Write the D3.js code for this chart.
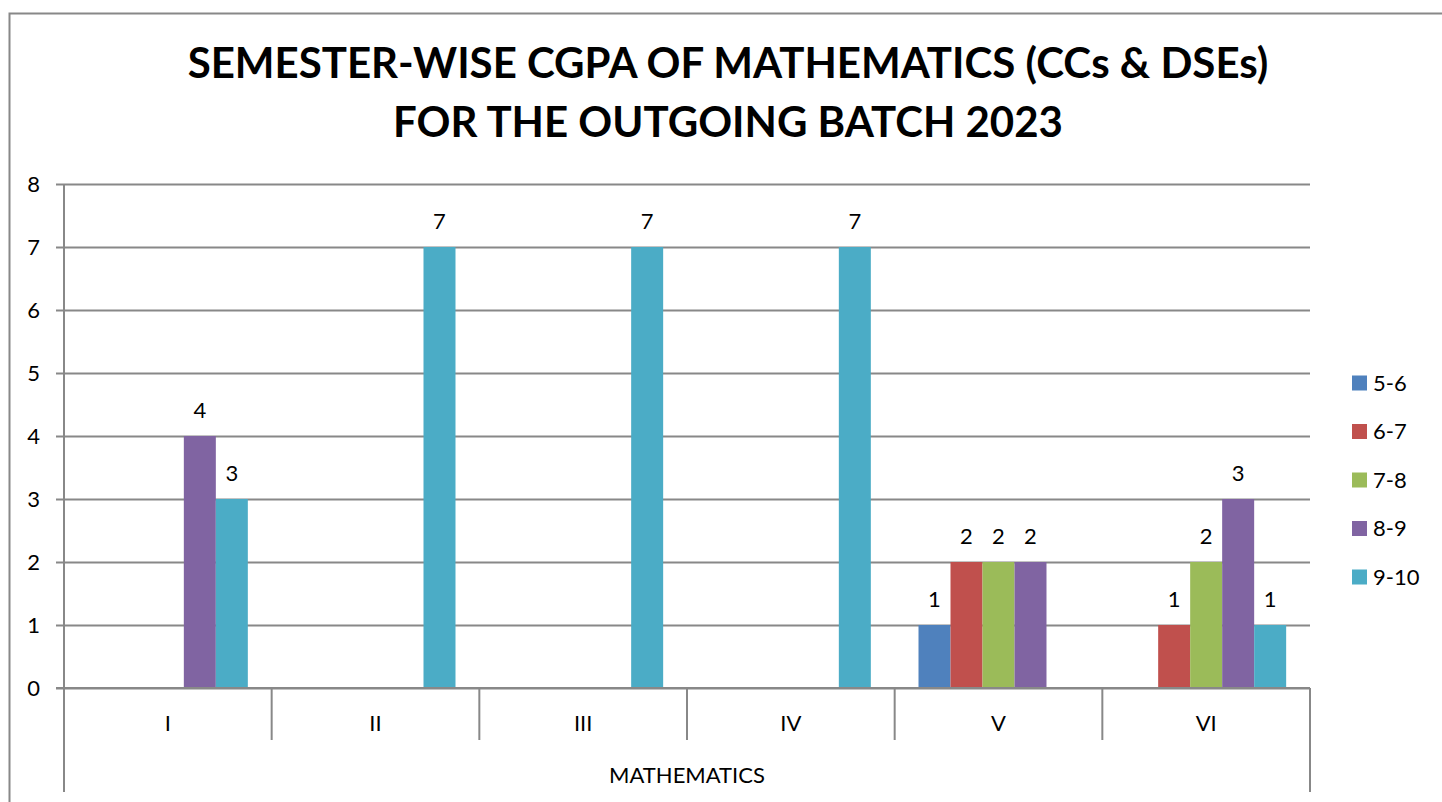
<!DOCTYPE html>
<html>
<head>
<meta charset="utf-8">
<script src="https://cdnjs.cloudflare.com/ajax/libs/d3/7.8.5/d3.min.js"></script>
<style>
  html, body { margin: 0; padding: 0; background: #fff; }
  svg { display: block; font-family: Lato, "Open Sans", sans-serif; }
</style>
</head>
<body>
<script>
// chart data
var semesters = ["I", "II", "III", "IV", "V", "VI"];
var groupName = "MATHEMATICS";
var ranges = ["5-6", "6-7", "7-8", "8-9", "9-10"];
var cgpa56 = [0, 0, 0, 0, 1, 0];
var cgpa67 = [0, 0, 0, 0, 2, 1];
var cgpa78 = [0, 0, 0, 0, 2, 2];
var cgpa89 = [4, 0, 0, 0, 2, 3];
var cgpa910 = [3, 7, 7, 7, 0, 1];
var yTicks = [0, 1, 2, 3, 4, 5, 6, 7, 8];
var titleLines = ["SEMESTER-WISE CGPA OF MATHEMATICS (CCs & DSEs)", "FOR THE OUTGOING BATCH 2023"];
var colors = ["#4F81BD", "#C0504D", "#9BBB59", "#8064A2", "#4BACC6"];

var seriesValues = [cgpa56, cgpa67, cgpa78, cgpa89, cgpa910];

var width = 1442,
    height = 802,
    axisGray = "#888888";

var plot = {left: 64, right: 1310, top: 184, bottom: 688};

var svg = d3.select("body").append("svg")
        .attr("width", width)
        .attr("height", height);

// chart frame (left and top edges show)
svg.append("path")
    .attr("d", "M9.5," + height + "V13.5H" + width)
    .attr("fill", "none")
    .attr("stroke", axisGray)
    .attr("stroke-width", 2);

// title
svg.append("g").selectAll("text")
    .data(titleLines)
    .enter().append("text")
    .attr("x", 728)
    .attr("y", function (d, i) { return 78 + i * 59; })
    .attr("text-anchor", "middle")
    .attr("font-weight", "bold")
    .attr("font-size", 42)
    .attr("fill", "#000")
    .text(function (d) { return d; });

var x0 = d3.scaleBand()
        .domain(semesters)
        .range([plot.left, plot.right]);

var x1 = d3.scaleBand()
        .domain(ranges)
        .range([0, x0.bandwidth()])
        .paddingInner(0)
        .paddingOuter(0.745);

var y = d3.scaleLinear()
        .domain([0, 8])
        .range([plot.bottom, plot.top]);

// gridlines + y axis
var yAxis = svg.append("g")
        .attr("transform", "translate(" + plot.left + ",0)")
        .call(d3.axisLeft(y).tickValues(yTicks).tickSize(8).tickPadding(16).tickFormat(d3.format("d")));
yAxis.select(".domain").remove();
yAxis.selectAll(".tick line")
    .attr("x2", plot.right - plot.left)
    .attr("x1", -8)
    .attr("stroke", axisGray)
    .attr("stroke-width", 2);
yAxis.selectAll(".tick text")
    .attr("font-size", 22)
    .attr("font-family", "Lato, sans-serif")
    .attr("fill", "#000");

// bars
var series = ranges.map(function (r, k) {
    return {name: r, color: colors[k], values: seriesValues[k]};
});

var rows = [];
series.forEach(function (s) {
    s.values.forEach(function (v, i) {
        rows.push({sem: semesters[i], range: s.name, value: v, color: s.color});
    });
});

svg.append("g").selectAll("rect")
    .data(rows.filter(function (d) { return d.value > 0; }))
    .enter().append("rect")
    .attr("x", function (d) { return x0(d.sem) + x1(d.range); })
    .attr("y", function (d) { return y(d.value); })
    .attr("width", x1.bandwidth())
    .attr("height", function (d) { return y(0) - y(d.value); })
    .attr("fill", function (d) { return d.color; });

// data labels
svg.append("g").selectAll("text")
    .data(rows.filter(function (d) { return d.value > 0; }))
    .enter().append("text")
    .attr("x", function (d) { return x0(d.sem) + x1(d.range) + x1.bandwidth() / 2; })
    .attr("y", function (d) { return y(d.value) - 18; })
    .attr("text-anchor", "middle")
    .attr("font-size", 22)
    .attr("fill", "#000")
    .text(function (d) { return d.value; });

// x axis: baseline, category dividers, labels
var axisG = svg.append("g");
axisG.append("line")
    .attr("x1", plot.left - 8).attr("x2", plot.right)
    .attr("y1", y(0)).attr("y2", y(0))
    .attr("stroke", axisGray).attr("stroke-width", 2);

var edges = semesters.map(function (s) { return x0(s); }).concat([plot.right]);
axisG.selectAll(".divider")
    .data(edges)
    .enter().append("line")
    .attr("class", "divider")
    .attr("x1", function (d) { return d; })
    .attr("x2", function (d) { return d; })
    .attr("y1", y(0))
    .attr("y2", function (d, i) { return (i === 0 || i === edges.length - 1) ? 792 : 740; })
    .attr("stroke", axisGray)
    .attr("stroke-width", 2);

// y axis line
axisG.append("line")
    .attr("x1", plot.left).attr("x2", plot.left)
    .attr("y1", plot.top).attr("y2", y(0))
    .attr("stroke", axisGray).attr("stroke-width", 2);

axisG.selectAll(".cat")
    .data(semesters)
    .enter().append("text")
    .attr("class", "cat")
    .attr("x", function (d) { return x0(d) + x0.bandwidth() / 2; })
    .attr("y", 731)
    .attr("text-anchor", "middle")
    .attr("font-size", 22)
    .attr("fill", "#000")
    .text(function (d) { return d; });

axisG.append("text")
    .attr("x", (plot.left + plot.right) / 2)
    .attr("y", 783)
    .attr("text-anchor", "middle")
    .attr("font-size", 22)
    .attr("fill", "#000")
    .text(groupName);

// legend
var legend = svg.append("g").selectAll("g")
        .data(series)
        .enter().append("g")
        .attr("transform", function (d, i) { return "translate(1352," + (383 + i * 48.5) + ")"; });

legend.append("rect")
    .attr("x", 0).attr("y", -7.5)
    .attr("width", 15).attr("height", 15)
    .attr("fill", function (d) { return d.color; });

legend.append("text")
    .attr("x", 21)
    .attr("dy", "0.36em")
    .attr("font-size", 22)
    .attr("fill", "#000")
    .text(function (d) { return d.name; });
</script>
</body>
</html>
